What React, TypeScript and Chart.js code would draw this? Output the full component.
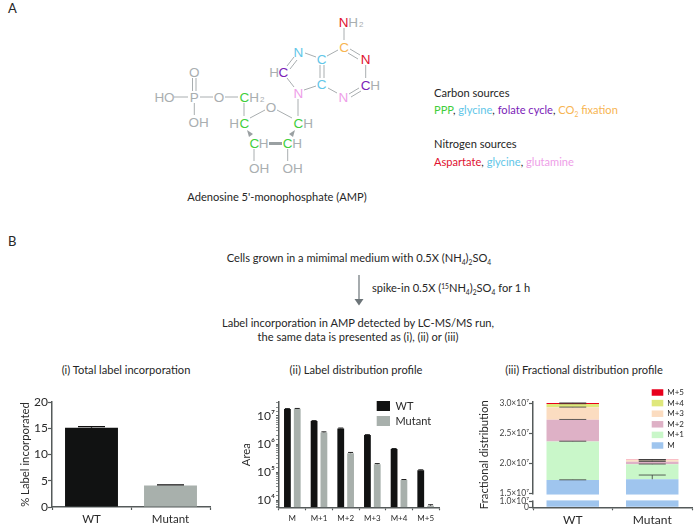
import React, { useEffect, useRef } from "react";
import { Chart, registerables, LinearScale } from "chart.js";

const totalCategories = ["WT", "Mutant"];
const totalValues = [15.1, 4.1];
const totalErrors = [0.2, 0.1];
const totalColors = ["#111212", "#a8b0ac"];

const isotopologues = ["M", "M+1", "M+2", "M+3", "M+4", "M+5"];
const areaWT = [1.78e7, 6.6e6, 3.6e6, 2.1e6, 6.7e5, 1.15e5];
const areaMutant = [1.8e7, 2.6e6, 4.7e5, 1.9e5, 5.2e4, 6300];
const areaErrWT = [0.6e6, 0.25e6, 0.12e6, 0.06e6, 0.02e6, 0.05e5];
const areaErrMutant = [0.6e6, 0.12e6, 0.3e5, 0.1e5, 0.02e5, 500];

const fracCategories = ["WT", "Mutant"];
const fracM = [1.728e7, 1.74e7];
const fracM1 = [0.64e7, 0.25e7];
const fracM2 = [0.361e7, 0.04e7];
const fracM3 = [0.205e7, 0.025e7];
const fracM4 = [0.055e7, 0.005e7];
const fracM5 = [0.015e7, 0.002e7];
const fracErrors = [
  [0.003e7, 0.07e7],
  [0.003e7, 0.003e7],
  [0.003e7, 0.005e7],
  [0.003e7, 0.005e7],
  [0.004e7, 0.006e7],
  [0.003e7, 0.003e7],
];
const fracColors = ["#9fc5ee", "#c9f7c9", "#deb1c6", "#fbdcc0", "#dfe87c", "#e8001c"];
const fracTicks = [0, 1e7, 1.5e7, 2e7, 2.5e7, 3e7];
const fracTickLabels = ["0", "1.0×10⁷", "1.5×10⁷", "2.0×10⁷", "2.5×10⁷", "3.0×10⁷"];
const breakValues = [0, 1e7, 1.5e7, 3.02e7];
const breakFractions = [0, 0.058, 0.129, 1];

const FONT = "Lato, 'Open Sans', sans-serif";
const AXIS = "#555a5a";
const TEXT = "#2a2a2a";

Chart.register(...registerables);

class BrokenScale extends (LinearScale as any) {
  static id = "broken";
  static defaults = (LinearScale as any).defaults;
  getPixelForValue(v: number) {
    const self = this as any;
    const h = self.bottom - self.top;
    let i = 0;
    while (i < breakValues.length - 2 && v > breakValues[i + 1]) i++;
    const t = (v - breakValues[i]) / (breakValues[i + 1] - breakValues[i]);
    const f = breakFractions[i] + t * (breakFractions[i + 1] - breakFractions[i]);
    return self.bottom - f * h;
  }
}
Chart.register(BrokenScale as any);

function errorBars(errors: number[][], whisker: number, lw: number, stacked: boolean, color = "#111") {
  return {
    id: "errorBars",
    afterDatasetsDraw(chart: any) {
      const ctx = chart.ctx;
      const y = chart.scales.y;
      ctx.save();
      ctx.strokeStyle = color;
      ctx.lineWidth = lw;
      const cum: number[] = [];
      chart.data.datasets.forEach((ds: any, i: number) => {
        const meta = chart.getDatasetMeta(i);
        ds.data.forEach((v: number, j: number) => {
          const base = stacked ? cum[j] || 0 : 0;
          const top = base + v;
          cum[j] = top;
          const err = errors[i][j];
          const x = meta.data[j].x;
          const y0 = y.getPixelForValue(top);
          const y1 = y.getPixelForValue(top + err);
          ctx.beginPath();
          ctx.moveTo(x, y0);
          ctx.lineTo(x, y1);
          ctx.moveTo(x - whisker / 2, y1);
          ctx.lineTo(x + whisker / 2, y1);
          ctx.stroke();
        });
      });
      ctx.restore();
    },
  };
}

function placeLegend(x: number, y: number) {
  return {
    id: "placeLegend",
    beforeDraw(chart: any) {
      const l = chart.legend;
      const w = l.width, h = l.height;
      l.left = x; l.top = y; l.right = x + w; l.bottom = y + h;
    },
  };
}

const axisBorder = { color: AXIS, width: 1.5 };
const gridOpts = (len: number) => ({
  drawOnChartArea: false,
  tickColor: AXIS,
  tickLength: len,
  tickWidth: 1.2,
});

const breakMask = {
  id: "breakMask",
  afterDraw(chart: any) {
    const { ctx, chartArea, scales } = chart;
    const yTop = scales.y.getPixelForValue(1.5e7) + 0.8;
    const yBot = scales.y.getPixelForValue(1e7) - 0.8;
    ctx.save();
    ctx.fillStyle = "#fff";
    ctx.fillRect(chartArea.left - 1.2, yTop, chartArea.width + 2, yBot - yTop);
    ctx.restore();
  },
};

const SUP: Record<string, string> = { 4: "10⁴", 5: "10⁵", 6: "10⁶", 7: "10⁷" };

function useChart(make: (c: HTMLCanvasElement) => Chart) {
  const ref = useRef<HTMLCanvasElement>(null);
  useEffect(() => {
    const chart = make(ref.current as HTMLCanvasElement);
    return () => chart.destroy();
  }, []);
  return ref;
}

function makeTotal(c: HTMLCanvasElement) {
  return new Chart(c, {
    type: "bar",
    data: {
      labels: totalCategories,
      datasets: [{ data: totalValues, backgroundColor: totalColors, borderWidth: 0, categoryPercentage: 1, barPercentage: 0.67 }],
    },
    options: {
      animation: false,
      responsive: false,
      layout: { padding: { top: 22, right: 20, left: 0, bottom: 0 } },
      plugins: { legend: { display: false }, tooltip: { enabled: false } },
      scales: {
        x: {
          afterFit: (s: any) => { s.height = 23; },
          border: axisBorder,
          grid: gridOpts(3),
          ticks: { color: TEXT, font: { family: FONT, size: 11.5 }, padding: 2, maxRotation: 0 },
        },
        y: {
          min: 0, max: 20,
          afterFit: (s: any) => { s.width = 52; },
          border: axisBorder,
          grid: gridOpts(4),
          ticks: { stepSize: 5, color: TEXT, font: { family: FONT, size: 12 }, padding: 0 },
          title: { display: true, text: "% Label incorporated", color: TEXT, font: { family: FONT, size: 11.3 }, padding: { top: 19, bottom: 0 } },
        },
      },
    } as any,
    plugins: [errorBars([totalErrors], 27, 1.2, false, "#111")] as any,
  });
}

function makeArea(c: HTMLCanvasElement) {
  const common = { borderWidth: 0, categoryPercentage: 0.737, barPercentage: 0.69 };
  return new Chart(c, {
    type: "bar",
    data: {
      labels: isotopologues,
      datasets: [
        { label: "WT", data: areaWT, backgroundColor: "#111212", ...common },
        { label: "Mutant", data: areaMutant, backgroundColor: "#a8b0ac", ...common },
      ],
    },
    options: {
      animation: false,
      responsive: false,
      layout: { padding: { top: 22, right: 21, left: 0, bottom: 0 } },
      plugins: {
        tooltip: { enabled: false },
        legend: {
          position: "chartArea",
          align: "start",
          labels: { boxWidth: 13.3, boxHeight: 10, padding: 4, color: TEXT, font: { family: FONT, size: 11 } },
        },
      },
      scales: {
        x: {
          afterFit: (s: any) => { s.height = 22.7; },
          border: axisBorder,
          grid: gridOpts(3),
          ticks: { color: TEXT, font: { family: FONT, size: 8 }, padding: 3, maxRotation: 0 },
        },
        y: {
          type: "logarithmic",
          min: 5500, max: 3.16e7,
          afterFit: (s: any) => { s.width = 49; },
          border: axisBorder,
          grid: { ...gridOpts(3), tickColor: (ctx: any) => (ctx.tick && Number.isInteger(Math.log10(ctx.tick.value)) ? AXIS : "#8a8f8f"), tickWidth: 1 },
          ticks: {
            autoSkip: false,
            color: TEXT,
            font: { family: FONT, size: 12 },
            padding: 1,
            callback: (v: number) => {
              const e = Math.round(Math.log10(v));
              return Math.abs(Math.pow(10, e) - v) < 1e-6 ? SUP[e] || "" : "";
            },
          },
          title: { display: true, text: "Area", color: TEXT, font: { family: FONT, size: 11.3 }, padding: { top: 10, bottom: 0 } },
        },
      },
    } as any,
    plugins: [placeLegend(376.7 - 230 - 4, 400.5 - 380 - 4), errorBars([areaErrWT, areaErrMutant], 5, 1, false, "#222")] as any,
  });
}

function makeFrac(c: HTMLCanvasElement) {
  const series = [fracM, fracM1, fracM2, fracM3, fracM4, fracM5];
  return new Chart(c, {
    type: "bar",
    data: {
      labels: fracCategories,
      datasets: series.map((data, i) => ({
        label: isotopologues[i],
        data,
        backgroundColor: fracColors[i],
        borderWidth: 0,
        categoryPercentage: 1,
        barPercentage: 0.66,
      })),
    },
    options: {
      animation: false,
      responsive: false,
      layout: { padding: { top: 22.1, right: 7, left: 0, bottom: 0 } },
      plugins: {
        tooltip: { enabled: false },
        legend: {
          position: "chartArea",
          align: "start",
          reverse: true,
          labels: { boxWidth: 11.6, boxHeight: 6.5, padding: 2.6, color: TEXT, font: { family: FONT, size: 8 } },
        },
      },
      scales: {
        x: {
          stacked: true,
          afterFit: (s: any) => { s.height = 22.7; },
          border: axisBorder,
          grid: gridOpts(3),
          ticks: { color: TEXT, font: { family: FONT, size: 12 }, padding: 3, maxRotation: 0 },
        },
        y: {
          type: "broken",
          stacked: true,
          min: 0, max: 3.02e7,
          afterBuildTicks: (s: any) => { s.ticks = fracTicks.map((value) => ({ value })); },
          afterFit: (s: any) => { s.width = 73; },
          border: axisBorder,
          grid: gridOpts(4),
          ticks: {
            autoSkip: false,
            color: "#444",
            font: { family: FONT, size: 8.5 },
            padding: 0,
            callback: (v: number) => fracTickLabels[fracTicks.indexOf(v)],
          },
          title: { display: true, text: "Fractional distribution", color: TEXT, font: { family: FONT, size: 11.3 }, padding: { top: 18, bottom: 0 } },
        },
      },
    } as any,
    plugins: [placeLegend(651.7 - 460 - 2.6, 388.5 - 380 - 2.6), errorBars(fracErrors, 27, 0.8, true, "#3a3a3a"), breakMask] as any,
  });
}

const GRAY = "#a9aeb0";
const GREEN = "#3fce3c";
const BLUE = "#62c6e8";
const PURPLE = "#7b22b8";
const ORANGE = "#f7b552";
const RED = "#e01030";
const PINK = "#ee9ee8";

function T({ x, y, center, size = 11.1, color = "#262626", children }: any) {
  return (
    <div
      style={{
        position: "absolute",
        left: x,
        top: y,
        transform: center ? "translate(-50%, -50%)" : "translateY(-50%)",
        whiteSpace: "nowrap",
        fontFamily: FONT,
        fontSize: size,
        lineHeight: 1,
        color,
      }}
    >
      {children}
    </div>
  );
}

const subS: React.CSSProperties = { fontSize: "0.6em", verticalAlign: "-0.35em", lineHeight: 0 };
const supS: React.CSSProperties = { fontSize: "0.6em", verticalAlign: "0.5em", lineHeight: 0 };

const bonds: number[][] = [
  [344, 28, 344, 40], [350, 49, 360, 55], [348, 53, 358, 59], [365.7, 65, 365.7, 78],
  [359, 88, 349, 94], [361, 91, 351, 97], [337, 93, 328, 88], [320, 65, 320, 78],
  [324, 65, 324, 78], [327, 56, 338, 50], [316, 57, 305, 53], [294, 57, 287, 66],
  [297, 60, 290, 69], [287, 78, 294, 87], [304, 90, 316, 86], [298, 99, 298, 116],
  [292, 118, 277, 110], [265, 110, 250, 118], [244, 116, 244, 103], [254, 149, 254, 161],
  [287.7, 149, 287.7, 161], [238, 97, 225, 97], [213, 97, 200, 97], [188, 97, 174, 97],
  [192.5, 91, 192.5, 78], [196, 91, 196, 78], [194.3, 103, 194.3, 115],
];

const atoms: [string, number, number, string][] = [
  ["N", 343.7, 22, RED], ["H", 353, 22, GRAY], ["C", 344, 47, ORANGE], ["N", 365.7, 59.5, RED],
  ["C", 365.7, 85, PURPLE], ["H", 375, 85, GRAY], ["N", 343.3, 97, PINK], ["C", 321.7, 84.5, BLUE],
  ["C", 321.7, 59.5, BLUE], ["N", 298.3, 52, BLUE], ["C", 283.3, 72, PURPLE], ["H", 274, 72, GRAY],
  ["N", 298.3, 93, PINK], ["C", 298.3, 123, GREEN], ["H", 308, 123, GRAY], ["O", 271, 107.5, GRAY],
  ["C", 244.3, 123, GREEN], ["H", 234, 123, GRAY], ["C", 254.3, 143.5, GREEN], ["H", 263.5, 143.5, GRAY],
  ["C", 287.7, 143.5, GREEN], ["H", 297, 143.5, GRAY], ["OH", 259, 168.5, GRAY], ["OH", 292.5, 168.5, GRAY],
  ["C", 244.3, 97.5, GREEN], ["H", 254, 97.5, GRAY], ["O", 219, 97.5, GRAY], ["P", 194.3, 97.5, GRAY],
  ["HO", 164.5, 97.5, GRAY], ["O", 194.3, 72, GRAY], ["OH", 198.5, 122.5, GRAY],
];

function Molecule() {
  return (
    <svg width={699} height={220} style={{ position: "absolute", left: 0, top: 0 }}>
      {bonds.map((b, i) => (
        <line key={i} x1={b[0]} y1={b[1]} x2={b[2]} y2={b[3]} stroke={GRAY} strokeWidth={1} />
      ))}
      <line x1={269} y1={143.5} x2={282} y2={143.5} stroke="#9aa0a2" strokeWidth={3} />
      <polygon points="247,130 249,137 253,134" fill="#9aa0a2" />
      <polygon points="295,130 293,137 289,134" fill="#9aa0a2" />
      {atoms.map((a, i) => (
        <text key={i} x={a[1]} y={a[2] + 4.8} textAnchor="middle" fontFamily="'Liberation Sans', sans-serif" fontSize={13.5} fill={a[3]}>
          {a[0]}
        </text>
      ))}
      <text x={359} y={27} fontFamily="'Liberation Sans', sans-serif" fontSize={8} fill={GRAY}>2</text>
      <text x={260} y={102} fontFamily="'Liberation Sans', sans-serif" fontSize={8} fill={GRAY}>2</text>
    </svg>
  );
}

function Arrow() {
  return (
    <svg width={20} height={34} style={{ position: "absolute", left: 349, top: 274 }}>
      <line x1={10} y1={1} x2={10} y2={26} stroke="#6c7478" strokeWidth={1.2} />
      <polygon points="5.5,25 14.5,25 10,31.5" fill="#6c7478" />
    </svg>
  );
}

export default function App() {
  const r1 = useChart(makeTotal);
  const r2 = useChart(makeArea);
  const r3 = useChart(makeFrac);
  const cv = (left: number, width: number): React.CSSProperties => ({ position: "absolute", left, top: 380, width, height: 150 });
  return (
    <div style={{ position: "absolute", left: 0, top: 0, width: 699, height: 530, background: "#fff", overflow: "hidden" }}>
      <T x={8} y={8} size={13}>A</T>
      <T x={8} y={241} size={13}>B</T>
      <Molecule />
      <T x={277} y={197} center>Adenosine 5'-monophosphate (AMP)</T>

      <T x={434} y={93}>Carbon sources</T>
      <T x={434} y={110}>
        <span style={{ color: GREEN }}>PPP</span>, <span style={{ color: BLUE }}>glycine</span>,{" "}
        <span style={{ color: PURPLE }}>folate cycle</span>,{" "}
        <span style={{ color: ORANGE }}>CO<span style={subS}>2</span> fixation</span>
      </T>
      <T x={434} y={144}>Nitrogen sources</T>
      <T x={434} y={161.5}>
        <span style={{ color: RED }}>Aspartate</span>, <span style={{ color: BLUE }}>glycine</span>,{" "}
        <span style={{ color: PINK }}>glutamine</span>
      </T>

      <T x={359} y={258} center>
        Cells grown in a mimimal medium with 0.5X (NH<span style={subS}>4</span>)<span style={subS}>2</span>SO<span style={subS}>4</span>
      </T>
      <Arrow />
      <T x={372} y={288}>
        spike-in 0.5X (<span style={supS}>15</span>NH<span style={subS}>4</span>)<span style={subS}>2</span>SO<span style={subS}>4</span> for 1 h
      </T>
      <T x={358} y={322.5} center>Label incorporation in AMP detected by LC-MS/MS run,</T>
      <T x={358} y={337} center>the same data is presented as (i), (ii) or (iii)</T>

      <T x={126} y={370} center>(i) Total label incorporation</T>
      <T x={356} y={370} center>(ii) Label distribution profile</T>
      <T x={584} y={370} center>(iii) Fractional distribution profile</T>

      <canvas ref={r1} width={230} height={150} style={cv(0, 230)} />
      <canvas ref={r2} width={230} height={150} style={cv(230, 230)} />
      <canvas ref={r3} width={239} height={150} style={cv(460, 239)} />
    </div>
  );
}
